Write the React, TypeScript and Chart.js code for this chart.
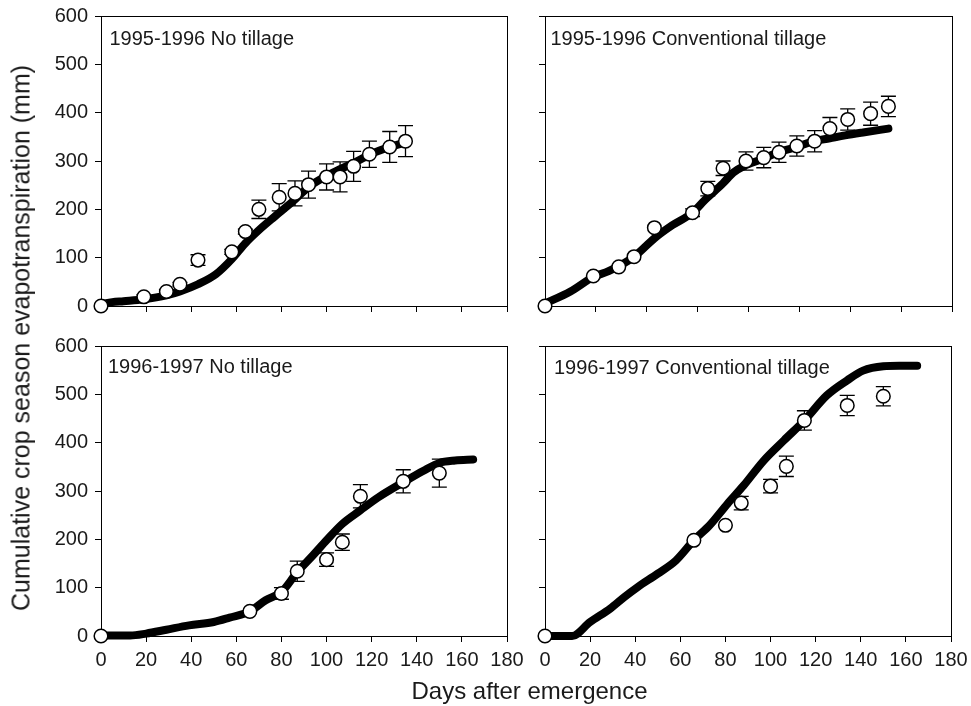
import React, { useEffect, useRef } from "react";
import { Chart, registerables } from "chart.js";

Chart.register(...registerables);

const FONT = "'Liberation Sans', Arial, Helvetica, sans-serif";
const TEXT = "#1a1a1a";

// ---------- Data ----------
// 1995-1996 No tillage
const obsDaysNT9596 = [0, 19, 29, 35, 43, 58, 64, 70, 79, 86, 92, 100, 106, 112, 119, 128, 135];
const obsNT9596 = [0, 19, 30, 45, 95, 112, 154, 200, 225, 233, 251, 267, 267, 289, 314, 329, 341];
const errNT9596 = [0, 4, 4, 4, 11, 5, 5, 19, 28, 26, 28, 27, 31, 31, 27, 32, 32];
const simDaysNT9596 = [0, 5, 10, 19, 29, 35, 43, 51, 58, 64, 70, 77, 85, 92, 98, 106, 113, 120, 128, 134];
const simNT9596 = [4, 8, 10, 14, 22, 30, 45, 66, 97, 130, 157, 185, 216, 246, 264, 283, 298, 315, 329, 337];

// 1995-1996 Conventional tillage
const obsDaysCT9596 = [0, 19, 29, 35, 43, 58, 64, 70, 79, 86, 92, 99, 106, 112, 119, 128, 135];
const obsCT9596 = [0, 62, 81, 102, 162, 193, 243, 285, 300, 307, 318, 331, 341, 367, 386, 398, 413];
const errCT9596 = [0, 0, 0, 0, 0, 8, 15, 15, 19, 21, 21, 21, 22, 23, 22, 24, 21];
const simDaysCT9596 = [0, 10, 19, 25, 35, 43, 50, 58, 63, 70, 74, 78, 86, 92, 99, 105, 112, 118, 125, 135];
const simCT9596 = [5, 30, 60, 72, 102, 140, 167, 193, 220, 254, 276, 289, 305, 319, 329, 340, 347, 353, 359, 367];

// 1996-1997 No tillage
const obsDaysNT9697 = [0, 66, 80, 87, 100, 107, 115, 134, 150];
const obsNT9697 = [0, 51, 88, 134, 158, 194, 289, 320, 337];
const errNT9697 = [0, 0, 12, 21, 14, 17, 24, 24, 29];
const simDaysNT9697 = [0, 13, 20, 29, 39, 50, 57, 66, 73, 80, 87, 94, 100, 107, 115, 123, 134, 143, 150, 157, 165];
const simNT9697 = [1, 1, 5, 13, 22, 29, 38, 51, 74, 91, 132, 167, 198, 232, 260, 287, 318, 342, 358, 363, 365];

// 1996-1997 Conventional tillage
const obsDaysCT9697 = [0, 66, 80, 87, 100, 107, 115, 134, 150];
const obsCT9697 = [0, 198, 229, 275, 310, 351, 446, 477, 496];
const errCT9697 = [0, 0, 0, 14, 14, 21, 20, 21, 20];
const simDaysCT9697 = [0, 12, 20, 29, 35, 41, 50, 58, 66, 73, 81, 88, 97, 106, 115, 125, 134, 141, 150, 157, 165];
const simCT9697 = [0, 0, 29, 57, 80, 101, 129, 156, 198, 229, 274, 311, 363, 405, 446, 498, 529, 549, 558, 559, 559];

const xTicksFull = [0, 20, 40, 60, 80, 100, 120, 140, 160, 180];
const yTicks = [0, 100, 200, 300, 400, 500, 600];

const panelLabels = [
  "1995-1996 No tillage",
  "1995-1996 Conventional tillage",
  "1996-1997 No tillage",
  "1996-1997 Conventional tillage",
];
const yTitle = "Cumulative crop season evapotranspiration (mm)";
const xTitle = "Days after emergence";

// ---------- Plugins ----------
const framePlugin = {
  id: "frame",
  beforeDatasetsDraw(chart: any) {
    const { ctx, chartArea } = chart;
    const l = Math.round(chartArea.left) + 0.5;
    const t = Math.round(chartArea.top) + 0.5;
    const r = Math.round(chartArea.right) + 0.5;
    const b = Math.round(chartArea.bottom) + 0.5;
    ctx.save();
    ctx.strokeStyle = "#000";
    ctx.lineWidth = 1;
    ctx.strokeRect(l, t, r - l, b - t);
    ctx.restore();
  },
};

const errorBarPlugin = {
  id: "errorBars",
  beforeDatasetDraw(chart: any, args: any) {
    const ds: any = chart.data.datasets[args.index];
    if (!ds.errors) return;
    const { ctx } = chart;
    const xs = chart.scales.x;
    const ys = chart.scales.y;
    ctx.save();
    ctx.strokeStyle = "#000";
    ctx.lineWidth = 1.3;
    ds.data.forEach((p: any, i: number) => {
      const e = ds.errors[i];
      if (!e) return;
      const px = xs.getPixelForValue(p.x);
      const y1 = ys.getPixelForValue(p.y + e);
      const y2 = ys.getPixelForValue(p.y - e);
      const w = 7.5;
      ctx.beginPath();
      ctx.moveTo(px, y1);
      ctx.lineTo(px, y2);
      ctx.moveTo(px - w, y1);
      ctx.lineTo(px + w, y1);
      ctx.moveTo(px - w, y2);
      ctx.lineTo(px + w, y2);
      ctx.stroke();
    });
    ctx.restore();
  },
};

type PanelProps = {
  left: number;
  top: number;
  width: number;
  height: number;
  padTop: number;
  padRight: number;
  yAxisW: number;
  xAxisH: number;
  xMax: number;
  showX: boolean;
  showY: boolean;
  obsDays: number[];
  obs: number[];
  err: number[];
  simDays: number[];
  sim: number[];
};

function Panel(p: PanelProps) {
  const ref = useRef<HTMLCanvasElement>(null);
  useEffect(() => {
    if (!ref.current) return;
    const chart = new Chart(ref.current, {
      type: "scatter",
      data: {
        datasets: [
          {
            label: "Observed",
            data: p.obsDays.map((d, i) => ({ x: d, y: p.obs[i] })),
            errors: p.err,
            pointRadius: 6.8,
            pointHoverRadius: 6.8,
            pointBackgroundColor: "#ffffff",
            pointBorderColor: "#000000",
            pointBorderWidth: 1.5,
            showLine: false,
            clip: false,
          } as any,
          {
            type: "line",
            label: "Simulated",
            data: p.simDays.map((d, i) => ({ x: d, y: p.sim[i] })),
            borderColor: "#000000",
            borderWidth: 8,
            pointRadius: 0,
            showLine: true,
            cubicInterpolationMode: "monotone",
            borderCapStyle: "round",
            borderJoinStyle: "round",
            fill: false,
            clip: false,
          } as any,
        ],
      },
      options: {
        animation: false,
        responsive: false,
        events: [],
        layout: { padding: { left: 0, top: p.padTop, right: p.padRight, bottom: 0 } },
        plugins: { legend: { display: false }, tooltip: { enabled: false } },
        scales: {
          x: {
            type: "linear",
            position: "bottom",
            min: 0,
            max: p.xMax,
            afterBuildTicks: (s: any) => {
              s.ticks = xTicksFull.filter((v) => v <= p.xMax).map((v) => ({ value: v }));
            },
            ticks: {
              display: p.showX,
              autoSkip: false,
              maxRotation: 0,
              padding: 6,
              color: TEXT,
              font: { family: FONT, size: 20 },
            },
            grid: {
              display: true,
              drawOnChartArea: false,
              drawTicks: true,
              tickLength: 6,
              color: "#000",
              lineWidth: 1,
            },
            border: { display: false },
            afterFit: (s: any) => {
              s.height = p.xAxisH;
              s.paddingLeft = 0;
              s.paddingRight = 0;
              s.paddingTop = 0;
              s.paddingBottom = 0;
            },
          },
          y: {
            type: "linear",
            position: "left",
            min: 0,
            max: 600,
            afterBuildTicks: (s: any) => {
              s.ticks = yTicks.map((v) => ({ value: v }));
            },
            ticks: {
              display: p.showY,
              autoSkip: false,
              padding: 7,
              color: TEXT,
              font: { family: FONT, size: 20 },
            },
            grid: {
              display: true,
              drawOnChartArea: false,
              drawTicks: true,
              tickLength: 6,
              color: "#000",
              lineWidth: 1,
            },
            border: { display: false },
            afterFit: (s: any) => {
              s.width = p.yAxisW;
              s.paddingLeft = 0;
              s.paddingRight = 0;
              s.paddingTop = 0;
              s.paddingBottom = 0;
            },
          },
        },
      } as any,
      plugins: [framePlugin, errorBarPlugin],
    });
    return () => chart.destroy();
  }, []);
  return (
    <canvas
      ref={ref}
      width={p.width}
      height={p.height}
      style={{ position: "absolute", left: p.left, top: p.top, width: p.width, height: p.height }}
    />
  );
}

const labelStyle = (left: number, top: number): React.CSSProperties => ({
  position: "absolute",
  left,
  top,
  fontFamily: FONT,
  fontSize: 20,
  lineHeight: "20px",
  color: TEXT,
  whiteSpace: "nowrap",
});

export default function App() {
  return (
    <div
      style={{
        position: "absolute",
        left: 0,
        top: 0,
        width: 971,
        height: 706,
        background: "#ffffff",
        overflow: "hidden",
      }}
    >
      <Panel
        left={520} top={0} width={451} height={326} padTop={16} padRight={19}
        yAxisW={25} xAxisH={20} xMax={160} showX={false} showY={false}
        obsDays={obsDaysCT9596} obs={obsCT9596} err={errCT9596}
        simDays={simDaysCT9596} sim={simCT9596}
      />
      <Panel
        left={520} top={326} width={451} height={380} padTop={20} padRight={20}
        yAxisW={25} xAxisH={70} xMax={180} showX={true} showY={false}
        obsDays={obsDaysCT9697} obs={obsCT9697} err={errCT9697}
        simDays={simDaysCT9697} sim={simCT9697}
      />
      <Panel
        left={0} top={0} width={535} height={326} padTop={16} padRight={28}
        yAxisW={101} xAxisH={20} xMax={180} showX={false} showY={true}
        obsDays={obsDaysNT9596} obs={obsNT9596} err={errNT9596}
        simDays={simDaysNT9596} sim={simNT9596}
      />
      <Panel
        left={0} top={326} width={535} height={380} padTop={20} padRight={28}
        yAxisW={101} xAxisH={70} xMax={180} showX={true} showY={true}
        obsDays={obsDaysNT9697} obs={obsNT9697} err={errNT9697}
        simDays={simDaysNT9697} sim={simNT9697}
      />
      <div style={labelStyle(109.5, 28)}>{panelLabels[0]}</div>
      <div style={labelStyle(550.5, 28)}>{panelLabels[1]}</div>
      <div style={labelStyle(108, 356)}>{panelLabels[2]}</div>
      <div style={labelStyle(554, 356.5)}>{panelLabels[3]}</div>
      <div
        style={{
          position: "absolute",
          left: 529.5,
          top: 678.5,
          transform: "translateX(-50%)",
          fontFamily: FONT,
          fontSize: 24,
          lineHeight: "24px",
          color: TEXT,
          whiteSpace: "nowrap",
        }}
      >
        {xTitle}
      </div>
      <div
        style={{
          position: "absolute",
          left: 21,
          top: 338,
          transform: "translate(-50%, -50%) rotate(-90deg)",
          fontFamily: FONT,
          fontSize: 25,
          lineHeight: "25px",
          color: TEXT,
          whiteSpace: "nowrap",
        }}
      >
        {yTitle}
      </div>
    </div>
  );
}
